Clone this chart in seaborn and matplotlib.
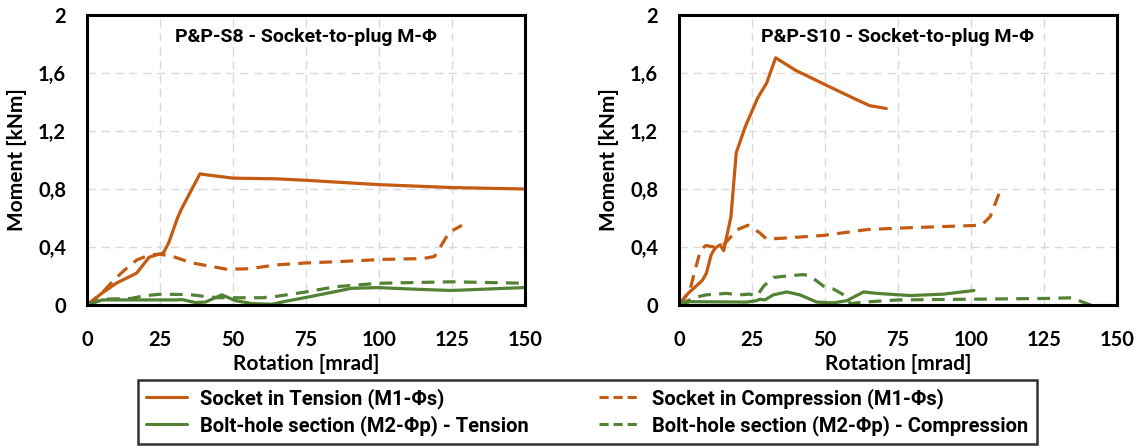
import matplotlib
matplotlib.use("Agg")
import matplotlib.pyplot as plt
from matplotlib import font_manager
from matplotlib.lines import Line2D
import seaborn as sns
import pandas as pd

# ---------------- data ----------------
# P&P-S8
s8_st_x = [0, 5, 10, 17, 21.3, 26.2, 28, 31, 32.3, 38.7, 40, 50, 65, 75, 100, 125, 150]
s8_st_y = [0, 0.08, 0.15, 0.22, 0.33, 0.36, 0.43, 0.60, 0.66, 0.905, 0.90, 0.875, 0.87, 0.86, 0.83, 0.81, 0.80]
s8_sc_x = [0, 5, 9.1, 12.8, 17, 21.3, 25, 29.3, 36, 48, 55.5, 65, 75, 87, 102, 115, 119, 121, 124, 128.4]
s8_sc_y = [0, 0.08, 0.17, 0.24, 0.31, 0.345, 0.35, 0.335, 0.29, 0.246, 0.25, 0.277, 0.29, 0.30, 0.315, 0.32, 0.335, 0.40, 0.50, 0.55]
s8_bt_x = [0, 5.2, 30.3, 32.6, 37.1, 40.5, 46.2, 50.8, 56.5, 63.3, 67.9, 77, 90.6, 99.7, 111, 124.6, 149.5]
s8_bt_y = [0, 0.035, 0.035, 0.037, 0.017, 0.02, 0.07, 0.03, 0.01, 0.005, 0.025, 0.06, 0.115, 0.12, 0.11, 0.10, 0.12]
s8_bc_x = [0, 5, 15, 20, 25, 35, 40, 45, 50, 60, 65, 75, 85, 100, 125, 150]
s8_bc_y = [0, 0.04, 0.045, 0.065, 0.074, 0.072, 0.06, 0.05, 0.05, 0.05, 0.06, 0.09, 0.126, 0.15, 0.16, 0.15]

# P&P-S10
s10_st_x = [0, 3.1, 8, 9.4, 11, 12.3, 14.1, 15.3, 17.8, 19.6, 22.7, 27, 30, 33.1, 39.8, 50, 60.4, 65.3, 71]
s10_st_y = [0, 0.08, 0.17, 0.22, 0.345, 0.39, 0.415, 0.375, 0.61, 1.05, 1.23, 1.43, 1.53, 1.705, 1.62, 1.52, 1.42, 1.375, 1.355]
s10_sc_x = [0, 3.7, 5.5, 7.4, 9.2, 12, 15.5, 20, 23.6, 27.5, 30, 35, 49.6, 64.3, 75, 88.8, 103.6, 106.6, 110.3]
s10_sc_y = [0, 0.10, 0.24, 0.38, 0.41, 0.40, 0.42, 0.52, 0.55, 0.50, 0.455, 0.46, 0.48, 0.52, 0.53, 0.54, 0.55, 0.61, 0.805]
s10_bt_x = [0, 3.7, 23.1, 26.6, 27.7, 29.4, 32.3, 36.9, 41.4, 47.2, 52.9, 57.5, 63.2, 67.8, 79.3, 90.7, 101]
s10_bt_y = [0, 0.023, 0.02, 0.03, 0.04, 0.035, 0.07, 0.09, 0.07, 0.02, 0.015, 0.03, 0.09, 0.08, 0.065, 0.075, 0.10]
s10_bc_x = [0, 3, 7.1, 9.4, 16.2, 20.8, 24.3, 26.6, 29, 32.3, 36.9, 42.6, 44.9, 49.5, 52.9, 56.4, 58.7, 63.2, 75, 100, 125, 135, 137.6, 141]
s10_bc_y = [0, 0.03, 0.06, 0.07, 0.08, 0.07, 0.075, 0.06, 0.13, 0.19, 0.20, 0.21, 0.20, 0.13, 0.11, 0.07, 0.01, 0.02, 0.035, 0.04, 0.045, 0.05, 0.025, 0.0]

panel_titles = ["P&P-S8 - Socket-to-plug M-Φ", "P&P-S10 - Socket-to-plug M-Φ"]
series_names = ["Socket in Tension (M1-Φs)", "Bolt-hole section (M2-Φp) - Tension",
                "Socket in Compression (M1-Φs)", "Bolt-hole section (M2-Φp) - Compression"]
x_ticks = [0, 25, 50, 75, 100, 125, 150]
y_ticks = [0, 0.4, 0.8, 1.2, 1.6, 2.0]
y_tick_labels = ["0", "0,4", "0,8", "1,2", "1,6", "2"]
x_label = "Rotation [mrad]"
y_label = "Moment [kNm]"

ORANGE = "#C55A11"
GREEN = "#548235"

# ---------------- fonts ----------------
sns.set_theme(style="white")
avail = {f.name for f in font_manager.fontManager.ttflist}

def pick(cands):
    for c in cands:
        if c in avail:
            return c
    return "DejaVu Sans"

AXIS_FONT = [pick(["Lato", "Open Sans", "Liberation Sans"]), "DejaVu Sans"]
TEXT_FONT = [pick(["Roboto", "Roboto Condensed", "Liberation Sans Narrow"]), "DejaVu Sans"]
plt.rcParams["font.family"] = AXIS_FONT

def build(panel, sx, sy, name):
    return pd.DataFrame({"rot": sx, "M": sy, "series": name, "panel": panel})

frames = [
    build(0, s8_st_x, s8_st_y, series_names[0]),
    build(0, s8_bt_x, s8_bt_y, series_names[1]),
    build(0, s8_sc_x, s8_sc_y, series_names[2]),
    build(0, s8_bc_x, s8_bc_y, series_names[3]),
    build(1, s10_st_x, s10_st_y, series_names[0]),
    build(1, s10_bt_x, s10_bt_y, series_names[1]),
    build(1, s10_sc_x, s10_sc_y, series_names[2]),
    build(1, s10_bc_x, s10_bc_y, series_names[3]),
]
df = pd.concat(frames, ignore_index=True)

DASH = (0, (4, 2.6))
styles = {
    series_names[0]: dict(color=ORANGE, ls="-"),
    series_names[1]: dict(color=GREEN, ls="-"),
    series_names[2]: dict(color=ORANGE, ls=DASH),
    series_names[3]: dict(color=GREEN, ls=DASH),
}
LW = 2.3

fig = plt.figure(figsize=(11.42, 4.48), dpi=100)
ax_l = fig.add_axes([87 / 1142, 143 / 448, 438 / 1142, 290 / 448])
ax_r = fig.add_axes([679 / 1142, 143 / 448, 438 / 1142, 290 / 448])
axes = [ax_l, ax_r]

for p, ax in enumerate(axes):
    sub = df[df["panel"] == p]
    for name in series_names:
        d = sub[sub["series"] == name]
        st = styles[name]
        sns.lineplot(data=d, x="rot", y="M", ax=ax, sort=False, estimator=None,
                     color=st["color"], linestyle=st["ls"], linewidth=LW, legend=False)
    ax.set_xlim(0, 150)
    ax.set_ylim(0, 2)
    ax.set_xticks(x_ticks)
    ax.set_xticklabels([str(t) for t in x_ticks])
    ax.set_yticks(y_ticks)
    ax.set_yticklabels(y_tick_labels)
    ax.grid(True, color="#d9d9d9", linestyle=(0, (6, 4)), linewidth=1.0)
    ax.set_axisbelow(True)
    for s in ax.spines.values():
        s.set_color("black")
        s.set_linewidth(2.2)
        s.set_zorder(5)
    ax.tick_params(axis="x", length=0, labelsize=14.5, pad=18, colors="black")
    ax.tick_params(axis="y", length=0, labelsize=14.5, pad=15, colors="black")
    for lab in ax.get_xticklabels() + ax.get_yticklabels():
        lab.set_fontweight("bold")
        lab.set_family(AXIS_FONT)
    ax.set_xlabel(x_label, fontsize=15, fontweight="bold", labelpad=3, color="black", family=AXIS_FONT)
    ax.set_ylabel(y_label, fontsize=15, fontweight="bold", labelpad=8, color="black", family=AXIS_FONT)
    ax.text(0.5, 0.924, panel_titles[p], transform=ax.transAxes, ha="center", va="center",
            fontsize=14, fontweight="bold", color="black", family=TEXT_FONT)

handles = [Line2D([0], [0], color=styles[n]["color"],
                  linestyle=("-" if styles[n]["ls"] == "-" else (0, (3, 1.6))), linewidth=2.2)
           for n in series_names]
leg = fig.legend(handles, series_names, loc="center", bbox_to_anchor=(587.5 / 1142, 36 / 448),
                 ncol=2, frameon=True, fancybox=False, handlelength=2.0,
                 columnspacing=3.5, labelspacing=0.3, borderpad=0.4, handletextpad=0.65,
                 prop=dict(family=TEXT_FONT, size=14.5, weight="bold"))
leg.get_frame().set_edgecolor("black")
leg.get_frame().set_linewidth(1.8)
for t in leg.get_texts():
    t.set_color("black")

fig.savefig("out.png", dpi=100)
